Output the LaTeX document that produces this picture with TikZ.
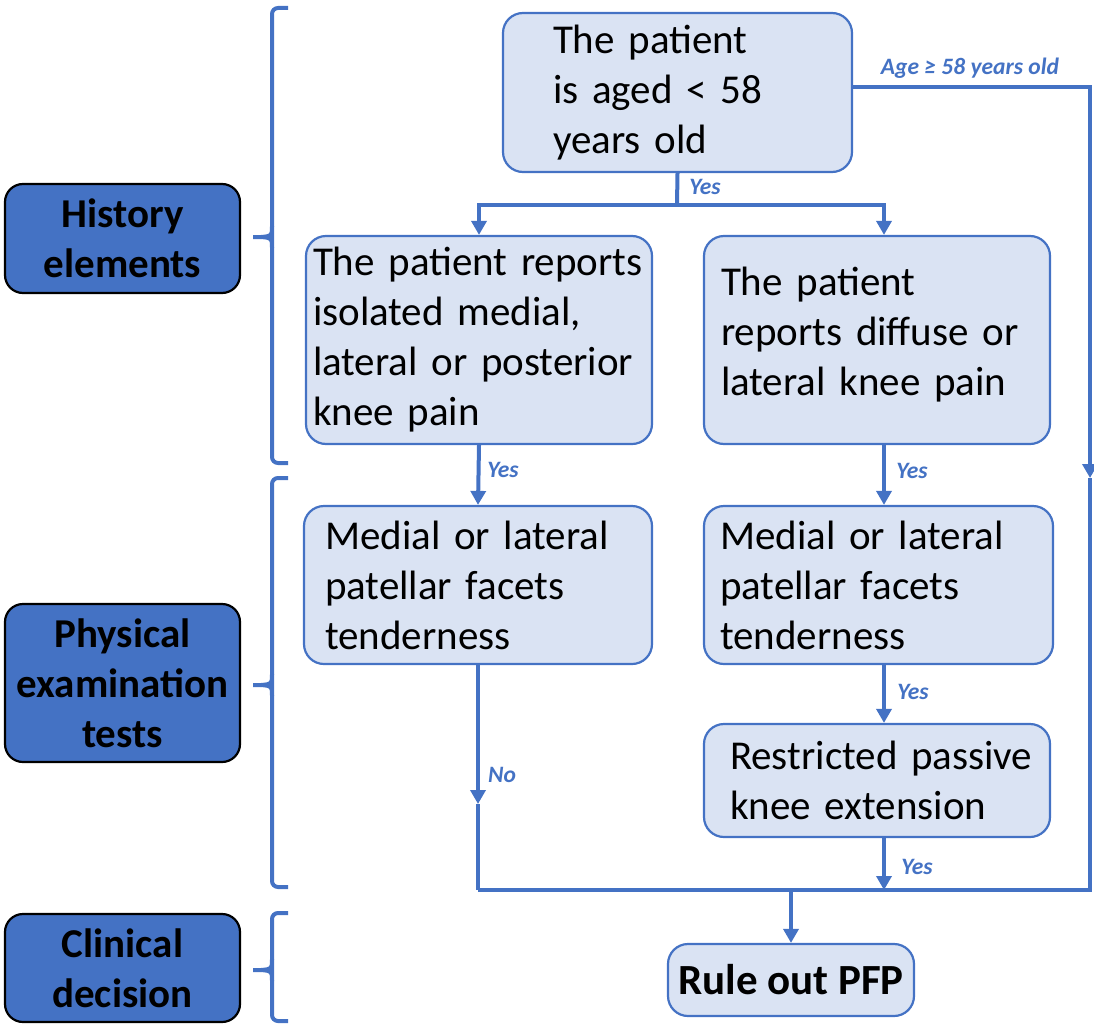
\documentclass[tikz,border=0pt]{standalone}
\usepackage{fontspec}
\setmainfont{Carlito}
\usetikzlibrary{arrows.meta}
\definecolor{accent}{HTML}{4472C4}
\definecolor{pale}{HTML}{DAE3F3}

\begin{document}
\begin{tikzpicture}[x=1pt,y=-1pt,
  stepbox/.style={draw=accent, line width=2.2pt, fill=pale, rounded corners=20pt,
    inner sep=0pt, align=left, font=\fontsize{41}{50}\selectfont},
  phase/.style={draw=black, line width=2.2pt, fill=accent, rounded corners=18pt,
    inner sep=0pt, minimum width=235pt, align=center,
    font=\fontsize{41}{50}\selectfont\bfseries},
  conn/.style={draw=accent, line width=4pt},
  arr/.style={conn, -{Triangle[width=15pt,length=14pt]}},
  lbl/.style={text=accent, inner sep=0pt, font=\fontsize{23.5}{26}\selectfont\bfseries\itshape},
  brace/.style={draw=accent, line width=4pt, rounded corners=6pt},
]
\useasboundingbox (0,0) rectangle (1094,1025);

% phase labels on the left
\node[phase, minimum height=109pt] (hist) at (122.5,238.5) {History\\elements};
\node[phase, minimum height=158pt] (phys) at (122.5,683) {Physical\\examination\\tests};
\node[phase, minimum height=108pt] (clin) at (122.5,968) {Clinical\\decision};

% braces grouping the steps
\draw[brace] (288,8) -- (272,8) -- (272,463) -- (288,463);
\draw[brace, rounded corners=0pt] (272,226) .. controls (272,236) .. (261,237) -- (253,237);
\draw[brace, rounded corners=0pt] (272,248) .. controls (272,238) .. (261,237);

\draw[brace] (288,478) -- (272,478) -- (272,887) -- (288,887);
\draw[brace, rounded corners=0pt] (272,674) .. controls (272,684) .. (261,685) -- (253,685);
\draw[brace, rounded corners=0pt] (272,696) .. controls (272,686) .. (261,685);

\draw[brace] (288,913) -- (272,913) -- (272,1021) -- (288,1021);
\draw[brace, rounded corners=0pt] (272,959) .. controls (272,969) .. (261,970) -- (253,970);
\draw[brace, rounded corners=0pt] (272,981) .. controls (272,971) .. (261,970);

% decision steps
\node[stepbox, minimum width=349pt, minimum height=159pt, text width=249pt] (A)
  at (677.5,92.5) {The patient\\is aged < 58\\years old};
\node[stepbox, minimum width=346pt, minimum height=208pt, text width=332pt] (B)
  at (479,340) {The patient reports\\isolated medial,\\lateral or posterior\\knee pain};
\node[stepbox, minimum width=346pt, minimum height=208pt, text width=312pt, text depth=118pt] (C)
  at (877,340) {The patient\\reports diffuse or\\lateral knee pain};
\node[stepbox, minimum width=348pt, minimum height=158pt, text width=306pt] (D)
  at (478,585) {Medial or lateral\\patellar facets\\tenderness};
\node[stepbox, minimum width=349pt, minimum height=158pt, text width=317pt] (E)
  at (878.5,585) {Medial or lateral\\patellar facets\\tenderness};
\node[stepbox, minimum width=346pt, minimum height=113pt, text width=294pt] (F)
  at (877,780.5) {\mbox{Restricted passive}\\\mbox{knee extension}};
\node[stepbox, minimum width=246pt, minimum height=72pt, align=center,
  font=\fontsize{43}{50}\selectfont\bfseries] (G) at (791,980) {Rule out PFP};

% junction points
\coordinate (split) at (677,205);
\coordinate (rmid) at (1090,478);
\coordinate (rr) at (1090,890);
\coordinate (nomid) at (478,804);
\coordinate (rl) at (478,890);
\coordinate (fjoin) at (884,890);
\coordinate (gjoin) at (791,890);

% connectors
\draw[conn] (A.south) -- (split);
\draw[arr] (split) -| (B.north);
\draw[arr] (split) -| ([xshift=7pt]C.north);
\draw[arr] ([yshift=5.5pt]A.east) -| (rmid);
\draw[conn] (rmid) -- (rr) -- (rl);
\draw[arr] (B.south) -- (D.north);
\draw[arr] ([xshift=7pt]C.south) -- ([xshift=5.5pt]E.north);
\draw[arr] ([xshift=5.5pt]E.south) -- ([xshift=7pt]F.north);
\draw[arr] (D.south) -- (nomid);
\draw[conn] (nomid) -- (rl);
\draw[arr] ([xshift=7pt]F.south) -- (fjoin);
\draw[arr] (gjoin) -- (G.north);

% branch labels
\node[lbl] (yes1) at (705,187) {Yes};
\node[lbl] (yes2) at (503,470) {Yes};
\node[lbl] (yes3) at (912,471) {Yes};
\node[lbl] (yes4) at (913,692) {Yes};
\node[lbl] (yes5) at (917,867) {Yes};
\node[lbl] (no) at (502,775) {No};
\node[lbl] (age) at (970,68) {Age ≥ 58 years old};
\end{tikzpicture}
\end{document}
